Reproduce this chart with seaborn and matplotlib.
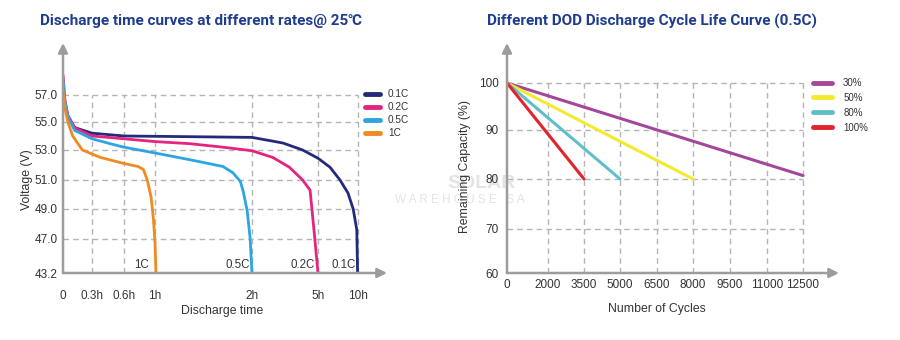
import numpy as np
import pandas as pd
import matplotlib
matplotlib.use("Agg")
import matplotlib.pyplot as plt
import seaborn as sns

# ---------------- data: left chart (discharge curves) ----------------
rate_labels = ["0.1C", "0.2C", "0.5C", "1C"]
rate_colors = ["#232a7c", "#e6237f", "#2ca5e0", "#f18a22"]

t_01 = [0, 0.02, 0.05, 0.12, 0.3, 0.6, 1.36, 2.0, 3.4, 4.3, 5.0, 6.5, 7.75, 8.75, 9.4, 9.85, 9.95]
v_01 = [57.7, 56.3, 55.4, 54.6, 54.2, 54.0, 53.95, 53.9, 53.5, 53.0, 52.45, 51.85, 51.0, 50.1, 49.0, 47.6, 43.2]

t_02 = [0, 0.02, 0.05, 0.12, 0.3, 0.6, 1.0, 1.36, 1.7, 2.0, 2.95, 3.7, 4.3, 4.64, 4.73, 4.86, 5.0]
v_02 = [58.5, 56.6, 55.5, 54.6, 54.0, 53.8, 53.6, 53.45, 53.2, 52.95, 52.5, 51.85, 51.0, 50.3, 48.9, 46.9, 43.2]

t_05 = [0, 0.02, 0.05, 0.12, 0.3, 0.47, 0.6, 1.0, 1.36, 1.7, 1.8, 1.88, 1.91, 1.95, 1.98, 2.0]
v_05 = [58.1, 56.5, 55.4, 54.4, 53.8, 53.45, 53.2, 52.8, 52.35, 51.9, 51.5, 50.9, 50.2, 48.9, 47.1, 43.2]

t_1 = [0, 0.02, 0.05, 0.1, 0.2, 0.38, 0.6, 0.78, 0.85, 0.9, 0.95, 0.98, 1.0, 1.01]
v_1 = [57.4, 56.0, 55.0, 54.0, 53.0, 52.5, 52.1, 51.9, 51.7, 51.0, 49.8, 48.3, 46.6, 43.2]

rate_label_time = [8.25, 4.3, 1.85, 0.83]
rate_label_volt = 44.1

time_ticks = [0, 0.3, 0.6, 1, 2, 5, 10]
time_tick_labels = ["0", "0.3h", "0.6h", "1h", "2h", "5h", "10h"]
volt_ticks = [43.2, 47, 49, 51, 53, 55, 57]
volt_tick_labels = ["43.2", "47.0", "49.0", "51.0", "53.0", "55.0", "57.0"]

# ---------------- data: right chart (cycle life) ----------------
dod_labels = ["30%", "50%", "80%", "100%"]
dod_colors = ["#a4479b", "#f3ea2e", "#5fbfc9", "#e2232e"]
dod_start_capacity = [100, 100, 100, 100]
dod_end_cycles = [12500, 8000, 5000, 3500]
dod_end_capacity = [80.7, 80, 80, 80]

cycle_ticks = [0, 2000, 3500, 5000, 6500, 8000, 9500, 11000, 12500]
cap_ticks = [60, 70, 80, 90, 100]

# ---------------- style ----------------
sns.set_theme(style="white")
plt.rcParams["font.family"] = ["Liberation Sans", "DejaVu Sans"]

W, H = 900, 340
fig = plt.figure(figsize=(W / 100, H / 100), dpi=100)
fig.patch.set_facecolor("white")


def px_axes(l, r, b, t):
    return fig.add_axes([l / W, (H - b) / H, (r - l) / W, (b - t) / H])


def piecewise(src, dst):
    src = np.asarray(src, float)
    dst = np.asarray(dst, float)

    def fwd(v):
        return np.interp(v, src, dst)

    def inv(v):
        return np.interp(v, dst, src)

    return fwd, inv


AXC = "#9c9c9c"
GRIDC = "#b4b4b4"
TXT = "#333333"


def arrows(ax):
    for sp in ax.spines.values():
        sp.set_visible(False)
    kw = dict(arrowstyle="-|>", color=AXC, lw=1.8, mutation_scale=14, shrinkA=0, shrinkB=0)
    ax.annotate("", xy=(0, 1), xytext=(0, 0), xycoords="axes fraction", arrowprops=kw, annotation_clip=False)
    ax.annotate("", xy=(1, 0), xytext=(0, 0), xycoords="axes fraction", arrowprops=kw, annotation_clip=False)


# ================= left chart =================
ax1 = px_axes(63, 387, 273, 43)
ax1.set_facecolor("none")
ax1.set_xscale("function", functions=piecewise([0, 0.3, 0.6, 1, 2, 5, 10, 20],
                                               [0, 29, 61, 92, 189, 255, 295, 375]))
ax1.set_yscale("function", functions=piecewise([40, 43.2, 47, 49, 51, 53, 55, 57, 62],
                                               [-34, 0, 34, 64, 93, 123, 151, 178, 245.5]))
ax1.set_xlim(0, 13.625)
ax1.set_ylim(43.2, 60.85)

ax1.vlines(time_ticks[1:], 43.2, 57, colors=GRIDC, linestyles=(0, (4, 3)), lw=1, zorder=1)
ax1.hlines(volt_ticks[1:], 0, 10, colors=GRIDC, linestyles=(0, (4, 3)), lw=1, zorder=1)

curves = [(t_01, v_01), (t_02, v_02), (t_05, v_05), (t_1, v_1)]
for (t, v), lab, col in zip(curves, rate_labels, rate_colors):
    df = pd.DataFrame({"time": t, "voltage": v})
    sns.lineplot(data=df, x="time", y="voltage", ax=ax1, color=col, lw=2,
                 estimator=None, sort=False, label=lab, zorder=3)

for tx, lab in zip(rate_label_time, rate_labels):
    ax1.text(tx, rate_label_volt, lab, ha="center", va="center", fontsize=8.3, color=TXT, zorder=2)

ax1.set_xticks(time_ticks, time_tick_labels)
ax1.set_yticks(volt_ticks, volt_tick_labels)
ax1.tick_params(axis="both", length=0, labelsize=8.5, colors=TXT)
ax1.tick_params(axis="x", pad=12)
ax1.tick_params(axis="y", pad=4)
ax1.set_xlabel("Discharge time", fontsize=8.8, color=TXT, va="center")
ax1.xaxis.set_label_coords(0.49, -0.165)
ax1.set_ylabel("Voltage (V)", fontsize=8.8, color=TXT, va="center")
ax1.yaxis.set_label_coords(-0.112, 0.404)
arrows(ax1)

leg1 = ax1.legend(loc="upper left", bbox_to_anchor=(365 / W, 1 - 89 / H), bbox_transform=fig.transFigure,
                  frameon=False, borderpad=0, borderaxespad=0, fontsize=7.2, handlelength=1.5,
                  handletextpad=0.8, labelspacing=0.3)
for ln in leg1.get_lines():
    ln.set_linewidth(3.5)
for tx in leg1.get_texts():
    tx.set_color(TXT)

# ================= right chart =================
ax2 = px_axes(507, 839, 273, 43)
ax2.set_facecolor("none")
ax2.set_xscale("function", functions=piecewise(
    [0, 2000, 3500, 5000, 6500, 8000, 9500, 11000, 12500, 20000],
    [0, 41, 77, 113, 150, 186, 223, 260, 296, 478.5]))
ax2.set_yscale("function", functions=piecewise([50, 60, 70, 80, 90, 100, 110],
                                               [-46, 0, 44, 94, 143, 190, 237.5]))
ax2.set_xlim(0, 13979)
ax2.set_ylim(60, 108.42)

ax2.vlines(cycle_ticks[1:], 60, 100, colors=GRIDC, linestyles=(0, (4, 3)), lw=1, zorder=1)
ax2.hlines(cap_ticks[1:], 0, 12500, colors=GRIDC, linestyles=(0, (4, 3)), lw=1, zorder=1)

for lab, col, c0, c1, n1 in zip(dod_labels, dod_colors, dod_start_capacity, dod_end_capacity, dod_end_cycles):
    df = pd.DataFrame({"cycles": [0, n1], "capacity": [c0, c1]})
    sns.lineplot(data=df, x="cycles", y="capacity", ax=ax2, color=col, lw=2.2,
                 estimator=None, sort=False, label=lab, zorder=3)

ax2.set_xticks(cycle_ticks, [str(c) for c in cycle_ticks])
ax2.set_yticks(cap_ticks, [str(c) for c in cap_ticks])
ax2.tick_params(axis="both", length=0, labelsize=8.5, colors=TXT)
ax2.tick_params(axis="x", pad=4)
ax2.tick_params(axis="y", pad=6)
ax2.set_xlabel("Number of Cycles", fontsize=8.8, color=TXT, va="center")
ax2.xaxis.set_label_coords(0.452, -0.157)
ax2.set_ylabel("Remaining Capacity (%)", fontsize=8.8, color=TXT, va="center")
ax2.yaxis.set_label_coords(-0.127, 0.461)
arrows(ax2)

leg2 = ax2.legend(loc="upper left", bbox_to_anchor=(813 / W, 1 - 78 / H), bbox_transform=fig.transFigure,
                  frameon=False, borderpad=0, borderaxespad=0, fontsize=7, handlelength=2.0,
                  handletextpad=1.1, labelspacing=0.5)
for ln in leg2.get_lines():
    ln.set_linewidth(3.5)
for tx in leg2.get_texts():
    tx.set_color(TXT)

# ================= titles & watermark =================
TITLEC = "#1f3d8f"
fig.text(40 / W, 1 - 21 / H, "Discharge time curves at different rates@ 25\u2103", ha="left", va="center",
         fontsize=11, fontweight="bold", color=TITLEC, family=["Roboto", "DejaVu Sans"])
fig.text(487 / W, 1 - 21 / H, "Different DOD Discharge Cycle Life Curve (0.5C)", ha="left", va="center",
         fontsize=11, fontweight="bold", color=TITLEC, family=["Roboto", "DejaVu Sans"])

fig.text(482 / W, 1 - 184 / H, "SOLAR", ha="center", va="center", fontsize=14, color="#e4e4e4",
         fontweight="bold", zorder=-5)
fig.text(460 / W, 1 - 200 / H, "W A R E H O U S E   S A", ha="center", va="center", fontsize=8.5,
         color="#e4e4e4", zorder=-5)

fig.savefig("out.png", dpi=100, facecolor="white")
